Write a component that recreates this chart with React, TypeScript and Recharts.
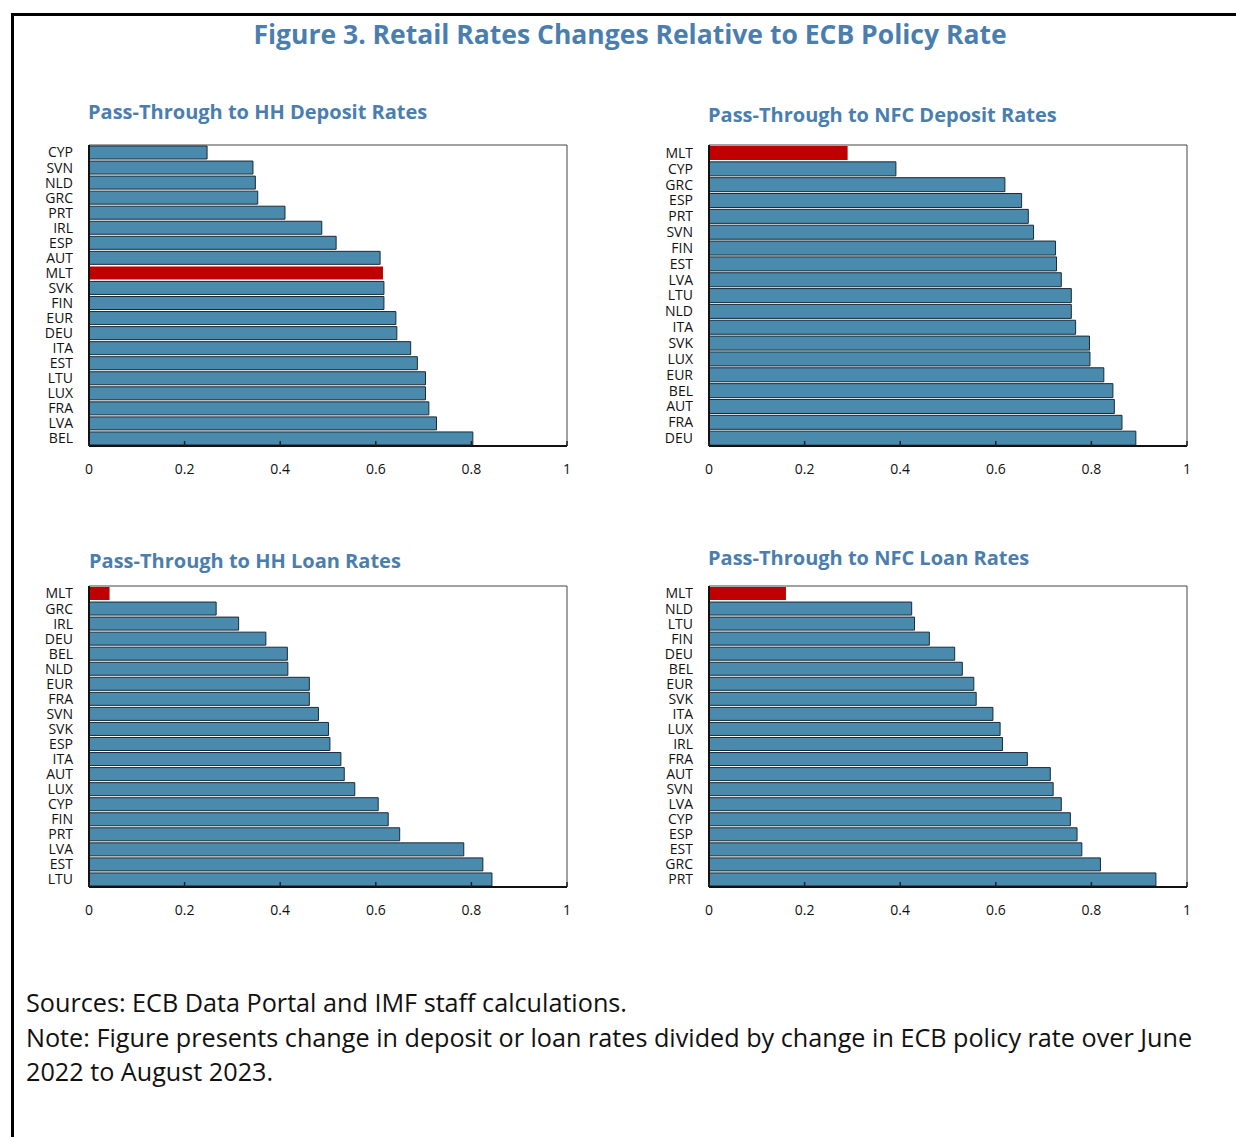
import { BarChart, Bar, XAxis, YAxis, Cell, ReferenceArea } from "recharts";

const HH_DEP_CATS = ["CYP", "SVN", "NLD", "GRC", "PRT", "IRL", "ESP", "AUT", "MLT", "SVK", "FIN", "EUR", "DEU", "ITA", "EST", "LTU", "LUX", "FRA", "LVA", "BEL"];
const HH_DEP_VALS = [0.247, 0.343, 0.348, 0.353, 0.41, 0.487, 0.517, 0.609, 0.615, 0.617, 0.617, 0.642, 0.644, 0.673, 0.687, 0.704, 0.704, 0.711, 0.727, 0.803];

const NFC_DEP_CATS = ["MLT", "CYP", "GRC", "ESP", "PRT", "SVN", "FIN", "EST", "LVA", "LTU", "NLD", "ITA", "SVK", "LUX", "EUR", "BEL", "AUT", "FRA", "DEU"];
const NFC_DEP_VALS = [0.29, 0.391, 0.619, 0.654, 0.668, 0.679, 0.725, 0.727, 0.737, 0.758, 0.758, 0.767, 0.796, 0.797, 0.826, 0.845, 0.848, 0.864, 0.893];

const HH_LOAN_CATS = ["MLT", "GRC", "IRL", "DEU", "BEL", "NLD", "EUR", "FRA", "SVN", "SVK", "ESP", "ITA", "AUT", "LUX", "CYP", "FIN", "PRT", "LVA", "EST", "LTU"];
const HH_LOAN_VALS = [0.043, 0.266, 0.313, 0.37, 0.415, 0.416, 0.461, 0.461, 0.48, 0.501, 0.504, 0.527, 0.534, 0.556, 0.605, 0.626, 0.65, 0.784, 0.824, 0.843];

const NFC_LOAN_CATS = ["MLT", "NLD", "LTU", "FIN", "DEU", "BEL", "EUR", "SVK", "ITA", "LUX", "IRL", "FRA", "AUT", "SVN", "LVA", "CYP", "ESP", "EST", "GRC", "PRT"];
const NFC_LOAN_VALS = [0.161, 0.424, 0.43, 0.461, 0.514, 0.53, 0.554, 0.559, 0.594, 0.609, 0.614, 0.666, 0.714, 0.72, 0.737, 0.756, 0.77, 0.78, 0.819, 0.935];

const X_TICKS = [0, 0.2, 0.4, 0.6, 0.8, 1];
const HIGHLIGHT = "MLT";

const BLUE = "#4a8aad";
const RED = "#c00000";
const TITLE_BLUE = "#4a7eae";
const FONT = "'Open Sans', 'Noto Sans', sans-serif";

const XTick = (props: any) => {
  const { x, y, payload } = props;
  return (
    <g>
      <line x1={x} y1={y} x2={x} y2={y - 5} stroke="#222" strokeWidth={1.5} />
      <text x={x} y={y + 28} textAnchor="middle" fontSize={14} fill="#111" fontFamily={FONT}>
        {payload.value}
      </text>
    </g>
  );
};

type PanelProps = {
  title: string;
  cats: string[];
  vals: number[];
  left: number;
  top: number;
  titleX: number;
  titleY: number;
};

const Panel = ({ title, cats, vals, left, top, titleX, titleY }: PanelProps) => {
  const data = cats.map((c, i) => ({ name: c, value: vals[i] }));
  return (
    <>
      <div
        style={{
          position: "absolute",
          left: titleX,
          top: titleY - 14,
          fontFamily: FONT,
          fontWeight: 700,
          fontSize: 20,
          color: TITLE_BLUE,
          whiteSpace: "nowrap",
          lineHeight: "28px",
        }}
      >
        {title}
      </div>
      <div style={{ position: "absolute", left, top }}>
        <BarChart
          width={600}
          height={350}
          data={data}
          layout="vertical"
          margin={{ top: 10, right: 33, bottom: 9, left: 29 }}
          barCategoryGap={1}
        >
          <XAxis
            type="number"
            domain={[0, 1]}
            ticks={X_TICKS}
            tick={<XTick />}
            tickLine={false}
            tickSize={0}
            tickMargin={0}
            height={30}
            axisLine={{ stroke: "#111", strokeWidth: 2 }}
            interval={0}
          />
          <YAxis
            type="category"
            dataKey="name"
            width={60}
            tickLine={false}
            tickMargin={10}
            interval={0}
            axisLine={{ stroke: "#111", strokeWidth: 2 }}
            tick={{ fontSize: 14, fill: "#111", fontFamily: FONT }}
          />
          <ReferenceArea x1={0} x2={1} fill="none" stroke="#444" strokeWidth={1} ifOverflow="visible" />
          <Bar dataKey="value" isAnimationActive={false} stroke="#1c2a36" strokeWidth={1}>
            {data.map((d) => (
              <Cell
                key={d.name}
                fill={d.name === HIGHLIGHT ? RED : BLUE}
                stroke={d.name === HIGHLIGHT ? "none" : "#1c2a36"}
              />
            ))}
          </Bar>
        </BarChart>
      </div>
    </>
  );
};

export default function App() {
  return (
    <div style={{ position: "absolute", left: 0, top: 0, width: 1236, height: 1137, background: "#fff", overflow: "hidden" }}>
      <div style={{ position: "absolute", left: 11, top: 13, width: 1225, height: 2.5, background: "#000" }} />
      <div style={{ position: "absolute", left: 11, top: 13, width: 2.5, height: 1124, background: "#000" }} />
      <div
        style={{
          position: "absolute",
          left: 0,
          width: 1260,
          top: 16,
          textAlign: "center",
          fontFamily: FONT,
          fontWeight: 700,
          fontSize: 26.5,
          color: TITLE_BLUE,
          lineHeight: "36px",
          whiteSpace: "nowrap",
        }}
      >
        Figure 3. Retail Rates Changes Relative to ECB Policy Rate
      </div>

      <Panel title="Pass-Through to HH Deposit Rates" cats={HH_DEP_CATS} vals={HH_DEP_VALS} left={0} top={135} titleX={88} titleY={112} />
      <Panel title="Pass-Through to NFC Deposit Rates" cats={NFC_DEP_CATS} vals={NFC_DEP_VALS} left={620} top={135} titleX={708} titleY={115} />
      <Panel title="Pass-Through to HH Loan Rates" cats={HH_LOAN_CATS} vals={HH_LOAN_VALS} left={0} top={576} titleX={89} titleY={561} />
      <Panel title="Pass-Through to NFC Loan Rates" cats={NFC_LOAN_CATS} vals={NFC_LOAN_VALS} left={620} top={576} titleX={708} titleY={558} />

      <div
        style={{
          position: "absolute",
          left: 26,
          top: 985,
          fontFamily: FONT,
          fontSize: 25.2,
          lineHeight: "34.5px",
          color: "#111",
          whiteSpace: "nowrap",
        }}
      >
        Sources: ECB Data Portal and IMF staff calculations.
        <br />
        Note: Figure presents change in deposit or loan rates divided by change in ECB policy rate over June
        <br />
        2022 to August 2023.
      </div>
    </div>
  );
}
